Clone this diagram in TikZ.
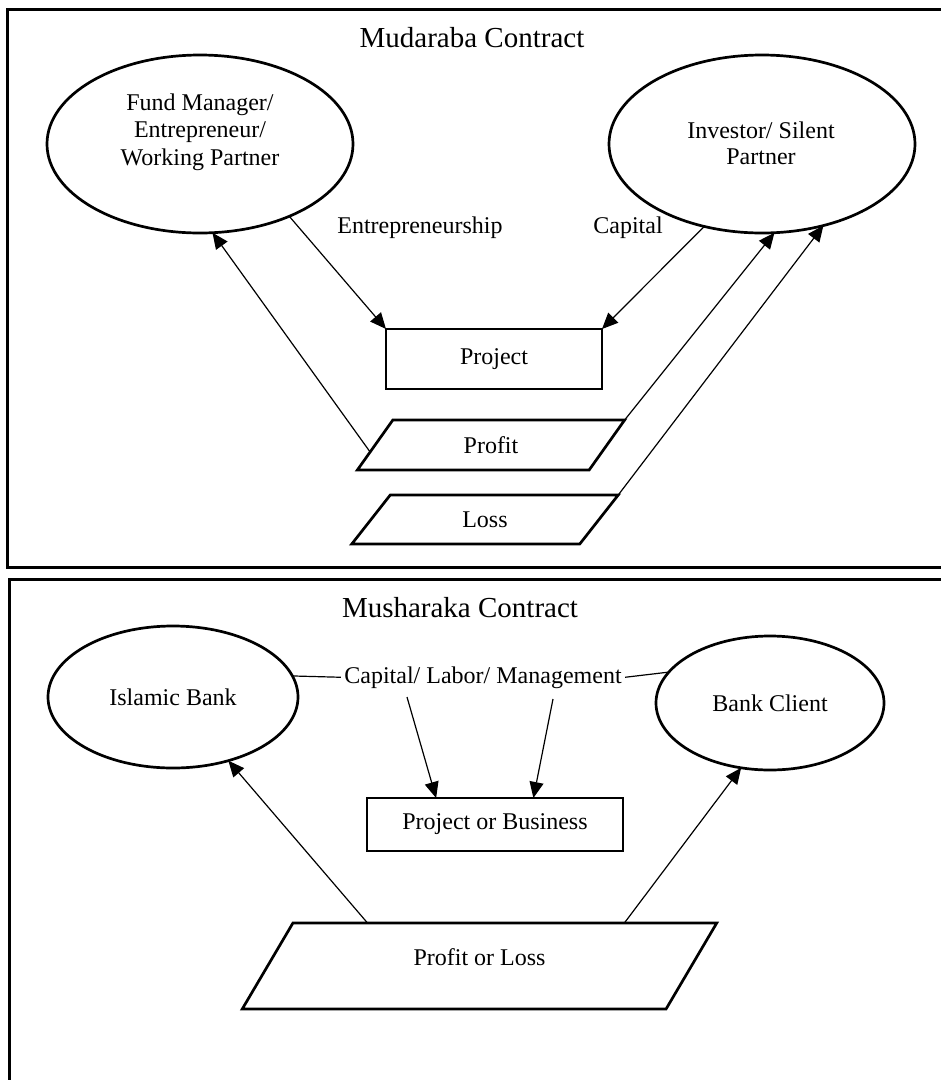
\documentclass[tikz,border=0pt]{standalone}
\usepackage{fontspec}
\setmainfont{Liberation Serif}
\usetikzlibrary{shapes.geometric,arrows.meta,calc}
\begin{document}
\begin{tikzpicture}[x=1pt,y=-1pt,
  every node/.style={font=\fontsize{24}{27.5}\selectfont},
  oval/.style={draw,ellipse,line width=2.7pt,inner sep=0pt,outer sep=0pt,align=center},
  box/.style={draw,rectangle,line width=2.7pt,inner sep=0pt,outer sep=0pt},
  para/.style={draw,trapezium,trapezium left angle=60,trapezium right angle=120,trapezium stretches=true,line width=2.7pt,inner sep=0pt,outer sep=0pt},
  conn/.style={line width=1.2pt},
  arr/.style={conn,-{Triangle[length=16pt,width=14pt]}},
  frame/.style={line width=3pt},
  ttl/.style={font=\fontsize{29}{34}\selectfont,anchor=base}]
\useasboundingbox (0,0) rectangle (941,1080);
% frames
\draw[frame] (960,9) -- (7,9) -- (7,567) -- (960,567);
\draw[frame] (960,579) -- (9,579) -- (9,1090);
% Mudaraba
\node[ttl] (t1) at (472,47) {Mudaraba Contract};
\node[oval,minimum width=306pt,minimum height=178pt] (fm) at (200,144) {};
\node[align=center] (fmt) at (200,131.8) {Fund Manager/\\Entrepreneur/\\Working Partner};
\node[oval,minimum width=306pt,minimum height=178pt] (inv) at (762,144) {};
\node[align=center,font=\fontsize{24}{26}\selectfont] (invt) at (761,143.5) {Investor/ Silent\\Partner};
\node[anchor=base] (ent) at (420,233) {Entrepreneurship};
\node[anchor=base] (cap) at (628,233) {Capital};
\node[box,minimum width=216pt,minimum height=60pt] (proj) at (494,359) {Project};
\node[para,minimum width=268pt,minimum height=50pt] (profit) at (491,445) {Profit};
\node[para,minimum width=268pt,minimum height=49pt] (loss) at (485,519.5) {Loss};
\draw[arr] (fm.321.3) -- (proj.north west);
\draw[arr] (inv.235.5) -- (proj.north east);
\draw[arr] ($(profit.bottom left corner)!0.36!(profit.top left corner)$) -- (fm.278.3);
\draw[arr] (profit.top right corner) -- (inv.278.3);
\draw[arr] (loss.top right corner) -- (inv.307.9);
% Musharaka
\node[ttl] (t2) at (460,617) {Musharaka Contract};
\node[oval,minimum width=250pt,minimum height=142pt] (ib) at (173,697) {Islamic Bank};
\node[oval,minimum width=228pt,minimum height=134pt] (bc) at (770,703) {Bank Client};
\node[anchor=base] (clm) at (483,683) {Capital/ Labor/ Management};
\node[box,minimum width=256pt,minimum height=53pt] (pb) at (495,824.5) {Project or Business};
\node[para,trapezium left angle=63.2,trapezium right angle=116.8,minimum width=475pt,minimum height=86pt,text depth=18.6pt] (pl) at (479.5,966) {Profit or Loss};
\draw[conn] (ib.10.8) -- (clm.west);
\draw[conn] (clm.east) -- (bc.163.6);
\coordinate (s1) at (407,697);
\coordinate (s2) at (553,699);
\draw[arr] (s1) -- ($(pb.north west)!0.27!(pb.north east)$);
\draw[arr] (s2) -- ($(pb.north west)!0.65!(pb.north east)$);
\draw[arr] ($(pl.top left corner)!0.176!(pl.top right corner)$) -- (ib.311);
\draw[arr] ($(pl.top left corner)!0.782!(pl.top right corner)$) -- (bc.246.7);
\end{tikzpicture}
\end{document}
